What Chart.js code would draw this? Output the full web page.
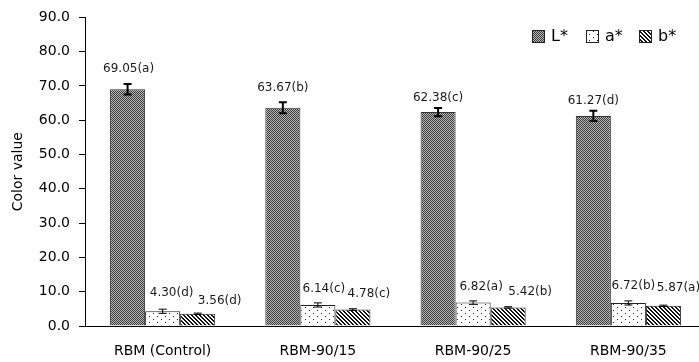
<!DOCTYPE html>
<html>
<head>
<meta charset="utf-8">
<script src="https://cdn.jsdelivr.net/npm/chart.js@4.4.1/dist/chart.umd.min.js"></script>
<style>
  html, body { margin: 0; padding: 0; background: #fff; overflow: hidden; }
  #wrap { width: 712px; height: 362px; }
</style>
</head>
<body>
<div id="wrap"><canvas id="c" width="712" height="362"></canvas></div>
<script>
// data
var samples = ['RBM (Control)', 'RBM-90/15', 'RBM-90/25', 'RBM-90/35'];
var lValues = [69.05, 63.67, 62.38, 61.27];
var aValues = [4.30, 6.14, 6.82, 6.72];
var bValues = [3.56, 4.78, 5.42, 5.87];
var lErrors = [1.5, 1.6, 1.2, 1.5];
var aErrors = [0.6, 0.6, 0.5, 0.6];
var bErrors = [0.2, 0.25, 0.2, 0.2];
var lLetters = ['a', 'b', 'c', 'd'];
var aLetters = ['d', 'c', 'a', 'b'];
var bLetters = ['d', 'c', 'b', 'a'];
var yTicks = [0, 10, 20, 30, 40, 50, 60, 70, 80, 90];

// label nudges (px): dx from bar centre, dy above bar top
var labelShift = [
  { dx: [1, 0, 0, 0],    dy: [20, 20, 14, 15] },
  { dx: [9, 6, 8, 5],    dy: [18, 16, 16, 17] },
  { dx: [22, 16, 22, 15], dy: [13, 16, 16, 18] }
];

var FONT = '"DejaVu Sans", Verdana, sans-serif';

function makePattern(kind) {
  var c = document.createElement('canvas');
  var x;
  if (kind === 'check') {
    c.width = 2; c.height = 2;
    x = c.getContext('2d');
    x.fillStyle = '#b8b8b8'; x.fillRect(0, 0, 2, 2);
    x.fillStyle = '#3c3c3c'; x.fillRect(0, 0, 1, 1); x.fillRect(1, 1, 1, 1);
  } else if (kind === 'dots') {
    c.width = 8; c.height = 6;
    x = c.getContext('2d');
    x.fillStyle = '#fff'; x.fillRect(0, 0, 8, 6);
    x.fillStyle = '#222'; x.fillRect(1, 1, 1, 1); x.fillRect(5, 4, 1, 1);
  } else {
    // "\\\" stripes, 2 on / 2 off
    c.width = 4; c.height = 4;
    x = c.getContext('2d');
    x.fillStyle = '#fff'; x.fillRect(0, 0, 4, 4);
    x.fillStyle = '#111';
    for (var i = 0; i < 4; i++) { x.fillRect(i, i, 1, 1); x.fillRect((i + 1) % 4, i, 1, 1); }
  }
  return c.getContext('2d').createPattern(c, 'repeat');
}

var patL = makePattern('check');
var patA = makePattern('dots');
var patB = makePattern('stripes');

var errorSets = [lErrors, aErrors, bErrors];
var letterSets = [lLetters, aLetters, bLetters];

// error bars + value labels
var extrasPlugin = {
  id: 'extras',
  afterDatasetsDraw: function (chart) {
    var ctx = chart.ctx, ys = chart.scales.y;
    chart.data.datasets.forEach(function (ds, di) {
      var meta = chart.getDatasetMeta(di);
      meta.data.forEach(function (bar, i) {
        var v = ds.data[i], e = errorSets[di][i];
        var top = ys.getPixelForValue(v + e), bot = ys.getPixelForValue(v - e);
        ctx.save();
        ctx.strokeStyle = '#000';
        ctx.lineWidth = di === 0 ? 2 : 1;
        ctx.beginPath();
        ctx.moveTo(bar.x, top); ctx.lineTo(bar.x, bot);
        ctx.moveTo(bar.x - 4, top); ctx.lineTo(bar.x + 4, top);
        ctx.moveTo(bar.x - 4, bot); ctx.lineTo(bar.x + 4, bot);
        ctx.stroke();
        ctx.fillStyle = '#1a1a1a';
        ctx.font = '12px ' + FONT;
        ctx.textAlign = 'center';
        ctx.textBaseline = 'middle';
        var sh = labelShift[di];
        ctx.fillText(v.toFixed(2) + '(' + letterSets[di][i] + ')', bar.x + sh.dx[i], ys.getPixelForValue(v) - sh.dy[i]);
        ctx.restore();
      });
    });
  },
  afterDraw: function (chart) {
    var ctx = chart.ctx;
    var items = [[532, 'L*', patL], [586, 'a*', patA], [639, 'b*', patB]];
    ctx.save();
    items.forEach(function (it) {
      ctx.fillStyle = it[2];
      ctx.fillRect(it[0], 30, 13, 13);
      ctx.strokeStyle = '#222'; ctx.lineWidth = 1;
      ctx.strokeRect(it[0] + 0.5, 30.5, 12, 12);
      ctx.fillStyle = '#000';
      ctx.font = '16px ' + FONT;
      ctx.textBaseline = 'middle';
      ctx.fillText(it[1], it[0] + 19, 37);
    });
    ctx.restore();
  }
};

new Chart(document.getElementById('c'), {
  type: 'bar',
  data: {
    labels: samples,
    datasets: [
      { label: 'L*', data: lValues, backgroundColor: patL, borderColor: '#333', borderWidth: 1 },
      { label: 'a*', data: aValues, backgroundColor: patA, borderColor: '#222', borderWidth: 1 },
      { label: 'b*', data: bValues, backgroundColor: patB, borderColor: '#222', borderWidth: 1 }
    ]
  },
  options: {
    responsive: false,
    animation: false,
    layout: { padding: { top: 16, right: 6, left: 0, bottom: 0 } },
    categoryPercentage: 0.677,
    barPercentage: 1,
    plugins: { legend: { display: false }, tooltip: { enabled: false } },
    scales: {
      x: {
        grid: { display: true, drawOnChartArea: false, drawTicks: false, color: '#000' },
        border: { display: true, color: '#000', width: 1 },
        ticks: { color: '#000', font: { family: FONT, size: 14 }, padding: 17, maxRotation: 0 },
        afterFit: function (s) { s.height = 36; }
      },
      y: {
        min: 0, max: 90,
        afterBuildTicks: function (s) { s.ticks = yTicks.map(function (v) { return { value: v }; }); },
        grid: { display: true, drawOnChartArea: false, drawTicks: true, tickLength: 6, color: '#000' },
        border: { display: true, color: '#000', width: 1 },
        ticks: { color: '#000', font: { family: FONT, size: 14 }, padding: 9,
          callback: function (v) { return Number(v).toFixed(1); } },
        title: { display: true, text: 'Color value', color: '#000', font: { family: FONT, size: 14 }, padding: { top: 10, bottom: 0 } },
        afterFit: function (s) { s.width = 85; }
      }
    }
  },
  plugins: [extrasPlugin]
});
</script>
</body>
</html>
